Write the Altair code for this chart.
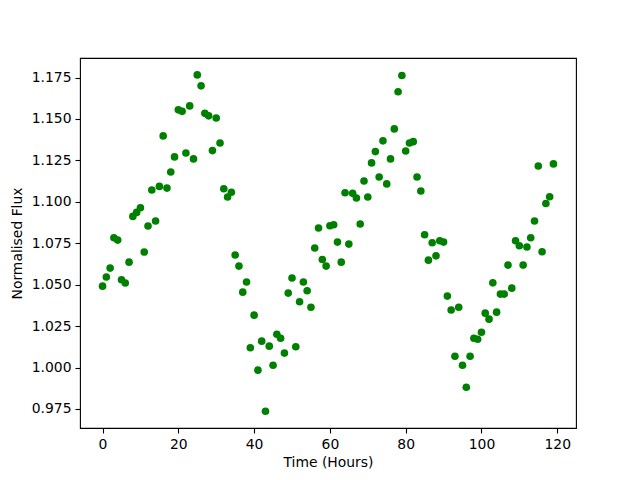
import altair as alt
import pandas as pd

hours = list(range(120))
flux = [
    1.0491, 1.0546, 1.0600, 1.0783, 1.0769, 1.0530, 1.0510, 1.0636, 1.0912, 1.0936,
    1.0964, 1.0697, 1.0854, 1.1071, 1.0884, 1.1093, 1.1398, 1.1083, 1.1180, 1.1271,
    1.1555, 1.1546, 1.1295, 1.1579, 1.1259, 1.1766, 1.1700, 1.1534, 1.1519, 1.1309,
    1.1506, 1.1355, 1.1079, 1.1029, 1.1058, 1.0679, 1.0612, 1.0455, 1.0516, 1.0119,
    1.0316, 0.9984, 1.0159, 0.9736, 1.0129, 1.0014, 1.0201, 1.0177, 1.0087, 1.0449,
    1.0540, 1.0125, 1.0397, 1.0516, 1.0463, 1.0364, 1.0721, 1.0842, 1.0652, 1.0612,
    1.0856, 1.0862, 1.0757, 1.0636, 1.1055, 1.0745, 1.1051, 1.1023, 1.0866, 1.1126,
    1.1029, 1.1235, 1.1303, 1.1150, 1.1368, 1.1108, 1.1259, 1.1440, 1.1664, 1.1762,
    1.1307, 1.1355, 1.1363, 1.1150, 1.1065, 1.0801, 1.0648, 1.0753, 1.0674, 1.0765,
    1.0757, 1.0431, 1.0347, 1.0068, 1.0364, 1.0014, 0.9881, 1.0068, 1.0177, 1.0171,
    1.0213, 1.0328, 1.0292, 1.0511, 1.0334, 1.0443, 1.0443, 1.0618, 1.0479, 1.0765,
    1.0735, 1.0618, 1.0727, 1.0783, 1.0884, 1.1216, 1.0699, 1.0990, 1.1031, 1.1229,
]

df = pd.DataFrame({"Time": hours, "Flux": flux})

font = "DejaVu Sans"

chart = alt.Chart(df).mark_point(
    filled=True, size=58, color="#008000", opacity=1, shape="circle"
).encode(
    x=alt.X("Time:Q",
            scale=alt.Scale(domain=[-5.95, 124.95], nice=False, zero=False),
            axis=alt.Axis(title="Time (Hours)", values=[0, 20, 40, 60, 80, 100, 120],
                          format="d", labelPadding=4, titlePadding=5)),
    y=alt.Y("Flux:Q",
            scale=alt.Scale(domain=[0.9635, 1.1868], nice=False, zero=False),
            axis=alt.Axis(title="Normalised Flux",
                          values=[0.975, 1.0, 1.025, 1.05, 1.075, 1.1, 1.125, 1.15, 1.175],
                          format=".3f", labelPadding=4, titlePadding=7)),
).properties(
    width=496, height=370,
    autosize=alt.AutoSizeParams(type="none"),
    padding={"left": 72, "top": 50, "right": 56, "bottom": 45},
).configure_view(
    stroke="black", strokeWidth=1.1
).configure_axis(
    grid=False, domain=False,
    tickColor="black", tickSize=5, tickWidth=1.1,
    labelFont=font, labelFontSize=13.9, labelColor="black",
    titleFont=font, titleFontSize=13.9, titleColor="black", titleFontWeight="normal",
)

chart.save("out.html", embed_options={"renderer": "svg", "actions": False})
